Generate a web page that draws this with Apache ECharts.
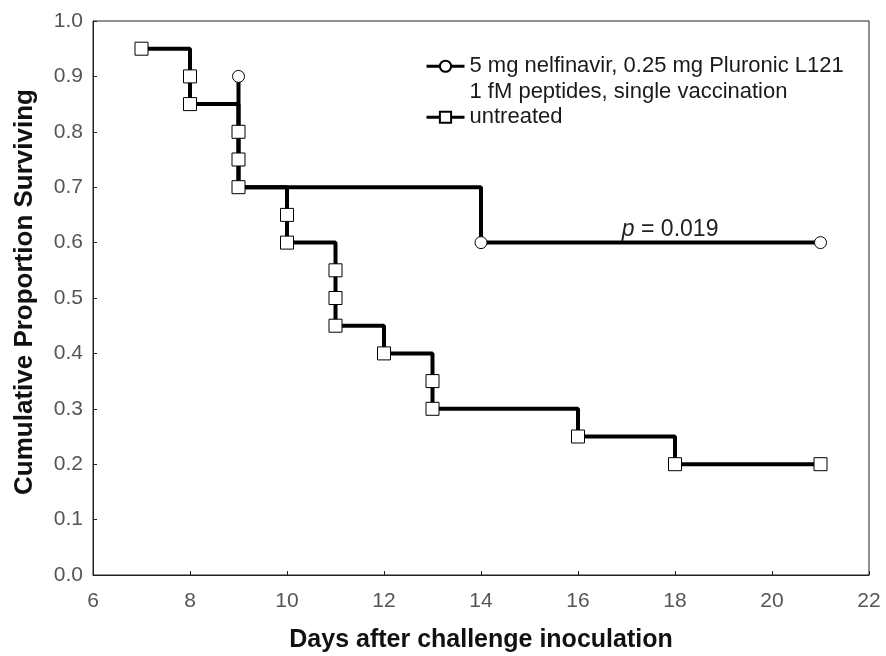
<!DOCTYPE html>
<html>
<head>
<meta charset="utf-8">
<script src="https://cdn.jsdelivr.net/npm/echarts@6/dist/echarts.min.js"></script>
<style>
  html, body { margin: 0; padding: 0; background: #fff; }
  #chart { width: 886px; height: 656px; }
</style>
</head>
<body>
<div id="chart"></div>
<script>
// Kaplan-Meier survival steps: [day, cumulative proportion surviving]
const treatedName = '5 mg nelfinavir, 0.25 mg Pluronic L121\n1 fM peptides, single vaccination';
const untreatedName = 'untreated';
const treatedDays = [9, 9, 9, 14, 21];
const treatedSurv = [0.9, 0.8, 0.7, 0.6, 0.6];
const untreatedDays = [7, 8, 8, 9, 9, 9, 10, 10, 11, 11, 11, 12, 13, 13, 16, 18, 21];
const untreatedSurv = [0.95, 0.9, 0.85, 0.8, 0.75, 0.7, 0.65, 0.6, 0.55, 0.5, 0.45, 0.4, 0.35, 0.3, 0.25, 0.2, 0.2];
const yTicks = [0, 0.1, 0.2, 0.3, 0.4, 0.5, 0.6, 0.7, 0.8, 0.9, 1.0];
const pLabel = '0.019';
const pAt = [17.9, 0.6];

const pairs = (xs, ys) => xs.map((x, i) => [x, ys[i]]);
const font = '"Liberation Sans", Arial, sans-serif';

const chart = echarts.init(document.getElementById('chart'));
chart.setOption({
  animation: false,
  backgroundColor: '#fff',
  textStyle: { fontFamily: font },
  grid: {
    left: 93, right: 17, top: 21, bottom: 81,
    containLabel: false, outerBoundsMode: 'none',
    show: true, borderColor: '#222', borderWidth: 1
  },
  legend: {
    orient: 'vertical',
    left: 420, top: 23,
    itemWidth: 38, itemHeight: 14, itemGap: 0, itemTextGap: 9,
    lineStyle: { width: 3 },
    textStyle: { fontSize: 22, color: '#1a1a1a', lineHeight: 25.5, fontFamily: font },
    // leading blank line keeps the icon level with the first text line
    formatter: name => name === treatedName ? '\n' + name : name,
    data: [treatedName, untreatedName]
  },
  xAxis: {
    type: 'value', min: 6, max: 22, interval: 2,
    name: 'Days after challenge inoculation',
    nameLocation: 'middle', nameGap: 53,
    nameTextStyle: { fontSize: 25, fontWeight: 'bold', color: '#111' },
    axisLine: { show: true, lineStyle: { color: '#222', width: 1 } },
    axisTick: { show: true, inside: true, length: 4, lineStyle: { color: '#222' } },
    axisLabel: { fontSize: 21, color: '#555', margin: 16 },
    splitLine: { show: false }
  },
  yAxis: {
    type: 'value', min: 0, max: 1, interval: 0.1,
    name: 'Cumulative Proportion Surviving',
    nameLocation: 'middle', nameGap: 55,
    nameTextStyle: { fontSize: 26, fontWeight: 'bold', color: '#111', padding: [0, 0, 0, 12] },
    axisLine: { show: true, lineStyle: { color: '#222', width: 1 } },
    axisTick: { show: true, inside: true, length: 4, lineStyle: { color: '#222' } },
    axisLabel: {
      fontSize: 21, color: '#555', margin: 10,
      formatter: v => yTicks.some(t => Math.abs(t - v) < 1e-9) ? v.toFixed(1) : ''
    },
    splitLine: { show: false }
  },
  series: [
    {
      name: treatedName,
      type: 'line',
      step: 'end',
      data: pairs(treatedDays, treatedSurv),
      symbol: 'circle', symbolSize: 12,
      lineStyle: { color: '#000', width: 4 },
      itemStyle: { color: '#fff', borderColor: '#000', borderWidth: 1 },
      z: 2,
      markPoint: {
        symbol: 'circle', symbolSize: 0,
        label: {
          show: true, position: 'top', distance: 1,
          formatter: '{i|p} = ' + pLabel,
          fontSize: 23, color: '#222', fontFamily: font,
          rich: { i: { fontStyle: 'italic', fontSize: 23, color: '#222', fontFamily: font } }
        },
        data: [{ coord: pAt }]
      }
    },
    {
      name: untreatedName,
      type: 'line',
      step: 'end',
      data: pairs(untreatedDays, untreatedSurv),
      symbol: 'rect', symbolSize: 13,
      lineStyle: { color: '#000', width: 4 },
      itemStyle: { color: '#fff', borderColor: '#000', borderWidth: 1 },
      z: 3
    }
  ]
});
</script>
</body>
</html>
